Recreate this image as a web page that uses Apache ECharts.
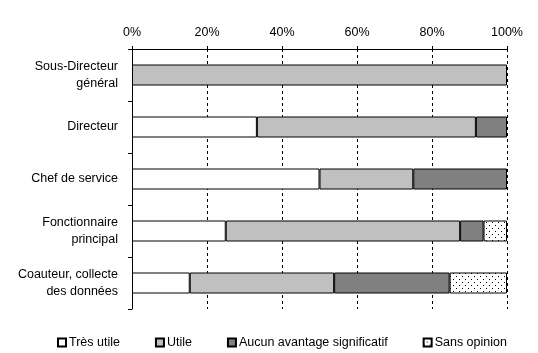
<!DOCTYPE html>
<html>
<head>
<meta charset="utf-8">
<script src="https://cdn.jsdelivr.net/npm/echarts@6/dist/echarts.min.js"></script>
<style>
  html, body { margin: 0; padding: 0; background: #fff; }
  #chart { width: 538px; height: 353px; }
</style>
</head>
<body>
<div id="chart"></div>
<script>
const categories = [
  'Sous-Directeur\ngénéral',
  'Directeur',
  'Chef de service',
  'Fonctionnaire\nprincipal',
  'Coauteur, collecte\ndes données'
]
const tresUtile = [0, 33.3, 50, 25, 15.4]
const utile = [100, 58.4, 25, 62.5, 38.5]
const aucunAvantage = [0, 8.3, 25, 6.25, 30.8]
const sansOpinion = [0, 0, 0, 6.25, 15.3]
const seriesNames = ['Très utile', 'Utile', 'Aucun avantage significatif', 'Sans opinion']

// dotted fill for "Sans opinion"
const dotCanvas = document.createElement('canvas')
dotCanvas.width = 6
dotCanvas.height = 6
const dctx = dotCanvas.getContext('2d')
dctx.fillStyle = '#fff'
dctx.fillRect(0, 0, 6, 6)
dctx.fillStyle = '#000'
dctx.fillRect(0, 0, 1, 1)
dctx.fillRect(3, 3, 1, 1)

const fills = ['#ffffff', '#c0c0c0', '#808080', { image: dotCanvas, repeat: 'repeat' }]
const values = [tresUtile, utile, aucunAvantage, sansOpinion]

const font = 'Liberation Sans, Arial, sans-serif'
const fs = 12.5
const chart = echarts.init(document.getElementById('chart'), null, { renderer: 'canvas' })

chart.setOption({
  animation: false,
  textStyle: { fontFamily: font, color: '#000' },
  grid: { left: 132, right: 31, top: 49, bottom: 44 },
  legend: {
    left: 52,
    top: 331,
    itemWidth: 8,
    itemHeight: 8,
    itemGap: 35,
    icon: 'rect',
    textStyle: { fontFamily: font, fontSize: fs, color: '#000', padding: [0, 0, 0, -2] },
    data: seriesNames
  },
  xAxis: {
    type: 'value',
    position: 'top',
    min: 0,
    max: 100,
    interval: 20,
    axisLine: { show: true, lineStyle: { color: '#000', width: 1 } },
    axisTick: { show: true, length: 3, lineStyle: { color: '#000' } },
    axisLabel: { formatter: '{value}%', fontSize: fs, color: '#000', margin: 10, fontFamily: font },
    splitLine: { show: true, lineStyle: { color: '#000', type: [3, 3], width: 1 } }
  },
  yAxis: {
    type: 'category',
    inverse: true,
    data: categories,
    axisLine: { show: true, lineStyle: { color: '#000', width: 1 } },
    axisTick: { show: true, length: 4, lineStyle: { color: '#000' } },
    axisLabel: { fontSize: fs, color: '#000', margin: 14, lineHeight: 17, fontFamily: font, align: 'right' }
  },
  series: seriesNames.map((name, i) => ({
    name: name,
    type: 'bar',
    stack: 'total',
    barWidth: 21,
    // empty segments are left out so they draw no border
    data: values[i].map((v) => (v === 0 ? '-' : v)),
    itemStyle: { color: fills[i], borderColor: '#000', borderWidth: 1 }
  }))
})
</script>
</body>
</html>
